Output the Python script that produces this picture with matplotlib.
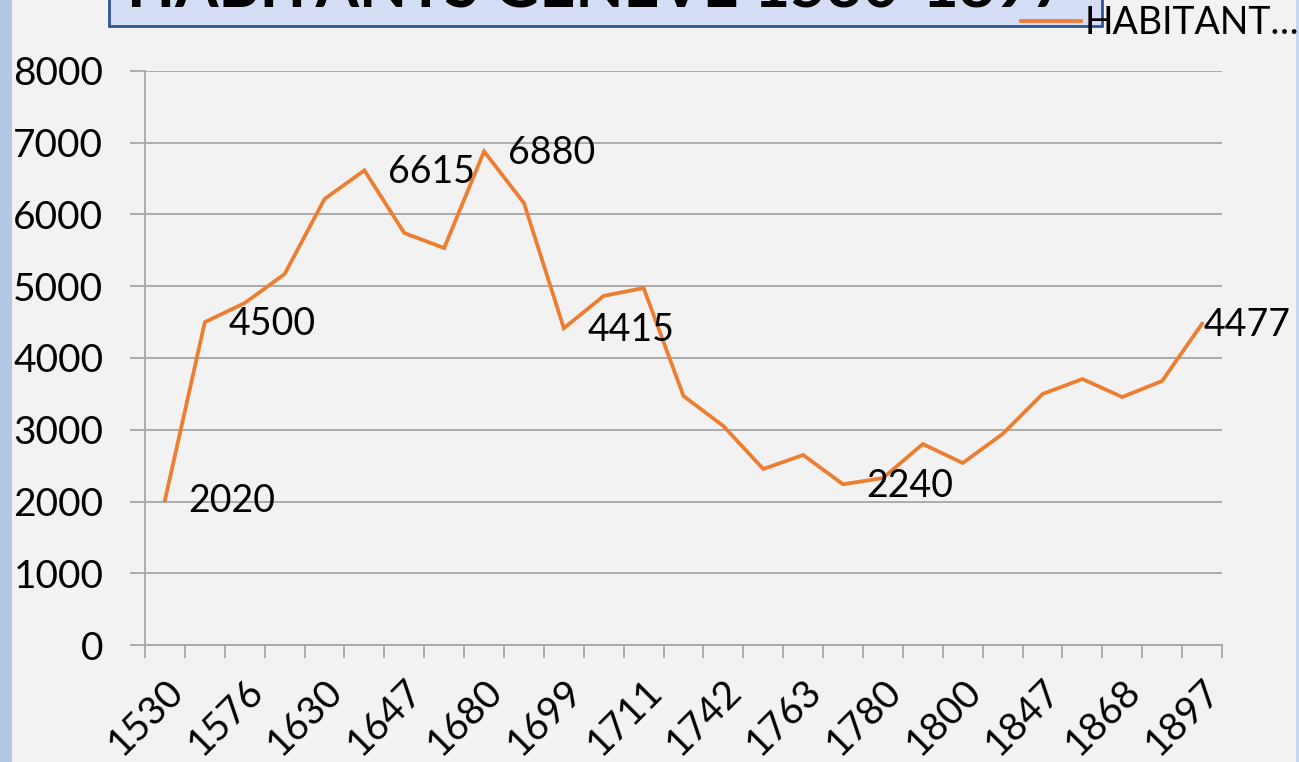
import numpy as np
import matplotlib
matplotlib.use("Agg")
import matplotlib.pyplot as plt
from matplotlib.patches import Rectangle

# data (27 census points, every other year labelled)
year_labels = ['1530', '1576', '1630', '1647', '1680', '1699', '1711',
               '1742', '1763', '1780', '1800', '1847', '1868', '1897']
habitants = [2020, 4500, 4766, 5170, 6216, 6615, 5742, 5533, 6880, 6160,
             4415, 4866, 4975, 3470, 3052, 2453, 2648, 2240, 2327, 2801,
             2537, 2941, 3498, 3707, 3456, 3680, 4477]
labelled_points = [0, 1, 5, 8, 10, 17, 26]
series_name = "HABITANT…"
title = "HABITANTS GENEVE 1530-1897"

plt.rcParams['font.family'] = ['Lato', 'DejaVu Sans']

W, H = 1299, 762
fig = plt.figure(figsize=(W / 100, H / 100), dpi=100, facecolor='#F2F2F2')
ax = fig.add_axes([145 / W, 1 - 645 / H, (1222 - 145) / W, (645 - 71) / H])
ax.set_facecolor('#F2F2F2')

x = np.arange(len(habitants))
line, = ax.plot(x, habitants, color='#ED7D31', lw=2.7, solid_joinstyle='miter',
                label=series_name, zorder=3)

for i in labelled_points:
    dx = 1 if i == len(habitants) - 1 else 17
    ax.annotate(str(habitants[i]), (x[i], habitants[i]), xytext=(dx, -1),
                textcoords='offset points', ha='left', va='center',
                fontsize=27, color='black', annotation_clip=False, zorder=4)

ax.set_xlim(-0.5, len(habitants) - 0.5)
ax.set_ylim(0, 8000)
ax.set_yticks(np.arange(0, 8001, 1000))
ax.yaxis.grid(True, color='#A6A6A6', lw=1.3)
ax.set_axisbelow(True)

ax.set_xticks(x[::2])
ax.set_xticklabels(year_labels, rotation=45, ha='right', va='top',
                   rotation_mode='anchor', fontsize=28)
ax.set_xticks(np.arange(-0.5, len(habitants), 1), minor=True)
ax.tick_params(axis='x', which='major', length=0, pad=20)
ax.tick_params(axis='x', which='minor', length=9, width=1.3, color='#A6A6A6')
ax.tick_params(axis='y', length=11, width=1.3, color='#A6A6A6', pad=19,
               labelsize=28)

for s in ['top', 'right']:
    ax.spines[s].set_visible(False)
for s in ['left', 'bottom']:
    ax.spines[s].set_color('#A6A6A6')
    ax.spines[s].set_linewidth(1.3)

# side bands of the chart frame
fig.add_artist(Rectangle((0, 0), 12 / W, 1, transform=fig.transFigure,
                         color='#B4C7E7', lw=0))
fig.add_artist(Rectangle((1296 / W, 0), 3 / W, 1, transform=fig.transFigure,
                         color='#C9D6EE', lw=0))

# title box, cut off at the top like in the original
fig.add_artist(Rectangle((109 / W, 1 - 26 / H), (1102 - 109) / W, 40 / H,
                         transform=fig.transFigure, facecolor='#D4DDF4',
                         edgecolor='#2F5597', lw=2, zorder=5))
fig.text(597 / W, 1 - 8 / H, title, ha='center', va='baseline',
         fontsize=45, fontweight='bold', color='black', zorder=6)

fig.legend(handles=[line], loc='center left',
           bbox_to_anchor=(1021 / W, 1 - 23 / H), frameon=False,
           fontsize=27, handlelength=1.6, handletextpad=0.1, borderpad=0,
           borderaxespad=0)

fig.savefig('out.png', dpi=100, facecolor=fig.get_facecolor())
